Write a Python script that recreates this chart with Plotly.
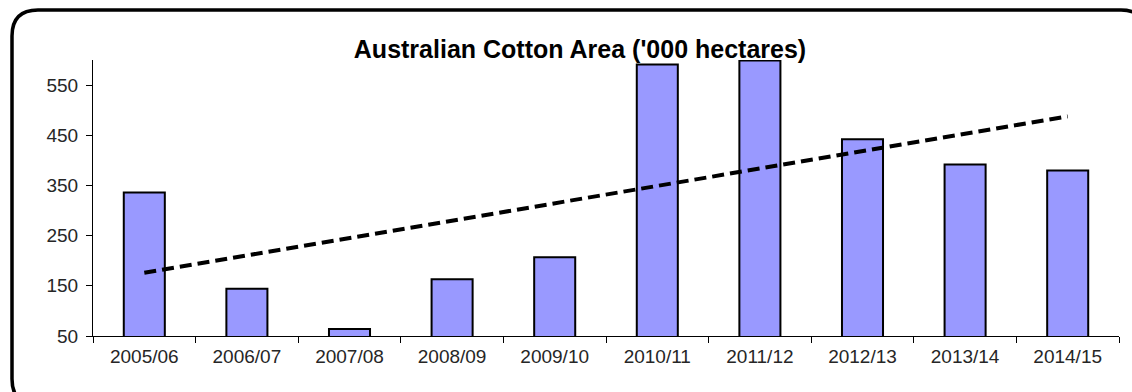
import numpy as np
import plotly.graph_objects as go

categories = ["2005/06", "2006/07", "2007/08", "2008/09", "2009/10",
              "2010/11", "2011/12", "2012/13", "2013/14", "2014/15"]
area = [336, 144, 64, 163, 207, 591, 599, 442, 392, 380]
y_ticks = [50, 150, 250, 350, 450, 550]

W, H = 1132, 392
L, R, T, B = 93, 13, 60, 56
pw, ph = W - L - R, H - T - B

# linear trendline fitted to the series
xi = np.arange(len(area))
slope, intercept = np.polyfit(xi, area, 1)
trend = slope * xi + intercept

fig = go.Figure()
fig.add_trace(go.Bar(
    x=categories, y=area, width=0.4,
    marker=dict(color="#9999FF", line=dict(color="black", width=2)),
    showlegend=False, hoverinfo="x+y",
))
fig.add_trace(go.Scatter(
    x=categories, y=trend, mode="lines",
    line=dict(color="black", width=4, dash="12px,6px"),
    showlegend=False, hoverinfo="skip",
))

def px_x(p):
    return (p - L) / pw

def px_y(p):
    return (H - B - p) / ph

# rounded chart-area frame (pixels -> paper)
fl, ft, fr, fb, rad = 12, 10, 1147, 405, 26
path = (
    f"M {px_x(fl)},{px_y(fb - rad)} "
    f"L {px_x(fl)},{px_y(ft + rad)} "
    f"Q {px_x(fl)},{px_y(ft)} {px_x(fl + rad)},{px_y(ft)} "
    f"L {px_x(fr - rad)},{px_y(ft)} "
    f"Q {px_x(fr)},{px_y(ft)} {px_x(fr)},{px_y(ft + rad)} "
    f"L {px_x(fr)},{px_y(fb - rad)} "
    f"Q {px_x(fr)},{px_y(fb)} {px_x(fr - rad)},{px_y(fb)} "
    f"L {px_x(fl + rad)},{px_y(fb)} "
    f"Q {px_x(fl)},{px_y(fb)} {px_x(fl)},{px_y(fb - rad)} Z"
)
fig.add_shape(type="path", path=path, xref="paper", yref="paper",
              line=dict(color="black", width=3.5), layer="above")

fig.update_layout(
    width=W, height=H,
    margin=dict(l=L, r=R, t=T, b=B),
    paper_bgcolor="white", plot_bgcolor="white",
    font=dict(family="Liberation Sans, Arial, sans-serif", color="#262626", size=19),
    title=dict(text="<b>Australian Cotton Area ('000 hectares)</b>",
               x=580 / W, xanchor="center", y=1 - 49 / H, yanchor="middle",
               font=dict(size=25, color="black")),
    bargap=0.6,
)
fig.update_xaxes(
    type="category", showline=True, linecolor="black", linewidth=1,
    ticks="outside", ticklen=6, tickcolor="black", tickson="boundaries",
    ticklabelstandoff=3,
    showgrid=False, zeroline=False,
)
fig.update_yaxes(
    range=[50, 600], tickvals=y_ticks, showline=True, linecolor="black", linewidth=1,
    ticks="outside", ticklen=6, tickcolor="black", ticklabelstandoff=4,
    showgrid=False, zeroline=False,
)

fig.write_html("out.html")
